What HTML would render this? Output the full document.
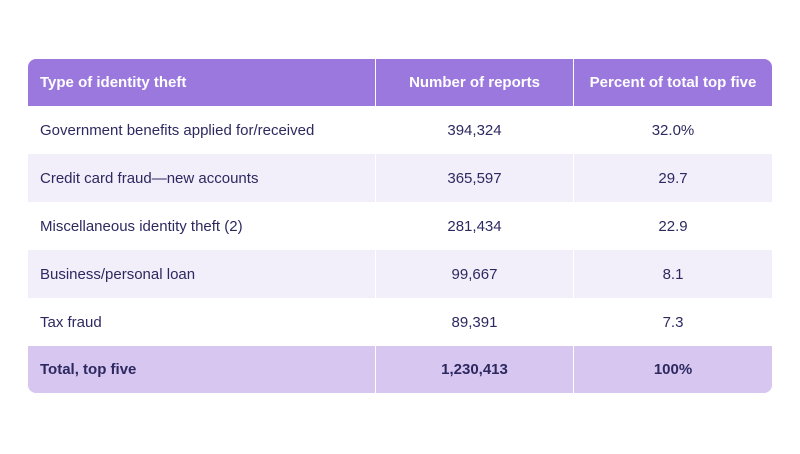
<!DOCTYPE html>
<html><head><meta charset="utf-8"><style>
body{margin:0;width:800px;height:454px;background:#fff;font-family:"Liberation Sans",sans-serif;position:relative;overflow:hidden}
.t{position:absolute;left:28px;top:59px;width:744px;border-radius:8px;overflow:hidden}
.r{display:flex;height:48px;color:#2d2960;font-size:15px}
.c{display:flex;align-items:center;box-sizing:border-box}
.c1{width:348px;padding-left:12px;border-right:1px solid #fff}
.c2{width:198px;justify-content:center;border-right:1px solid #fff}
.c3{width:198px;justify-content:center}
.h{background:#9b78de;color:#fff;font-weight:bold;height:47px}
.a{background:#f2eefa}
.w{background:#fff}
.tot{background:#d6c6f0;font-weight:bold;height:47px}
</style></head><body>
<div class="t">
<div class="r h"><div class="c c1">Type of identity theft</div><div class="c c2">Number of reports</div><div class="c c3">Percent of total top five</div></div>
<div class="r w"><div class="c c1">Government benefits applied for/received</div><div class="c c2">394,324</div><div class="c c3">32.0%</div></div>
<div class="r a"><div class="c c1">Credit card fraud—new accounts</div><div class="c c2">365,597</div><div class="c c3">29.7</div></div>
<div class="r w"><div class="c c1">Miscellaneous identity theft (2)</div><div class="c c2">281,434</div><div class="c c3">22.9</div></div>
<div class="r a"><div class="c c1">Business/personal loan</div><div class="c c2">99,667</div><div class="c c3">8.1</div></div>
<div class="r w"><div class="c c1">Tax fraud</div><div class="c c2">89,391</div><div class="c c3">7.3</div></div>
<div class="r tot"><div class="c c1">Total, top five</div><div class="c c2">1,230,413</div><div class="c c3">100%</div></div>
</div>
</body></html>
